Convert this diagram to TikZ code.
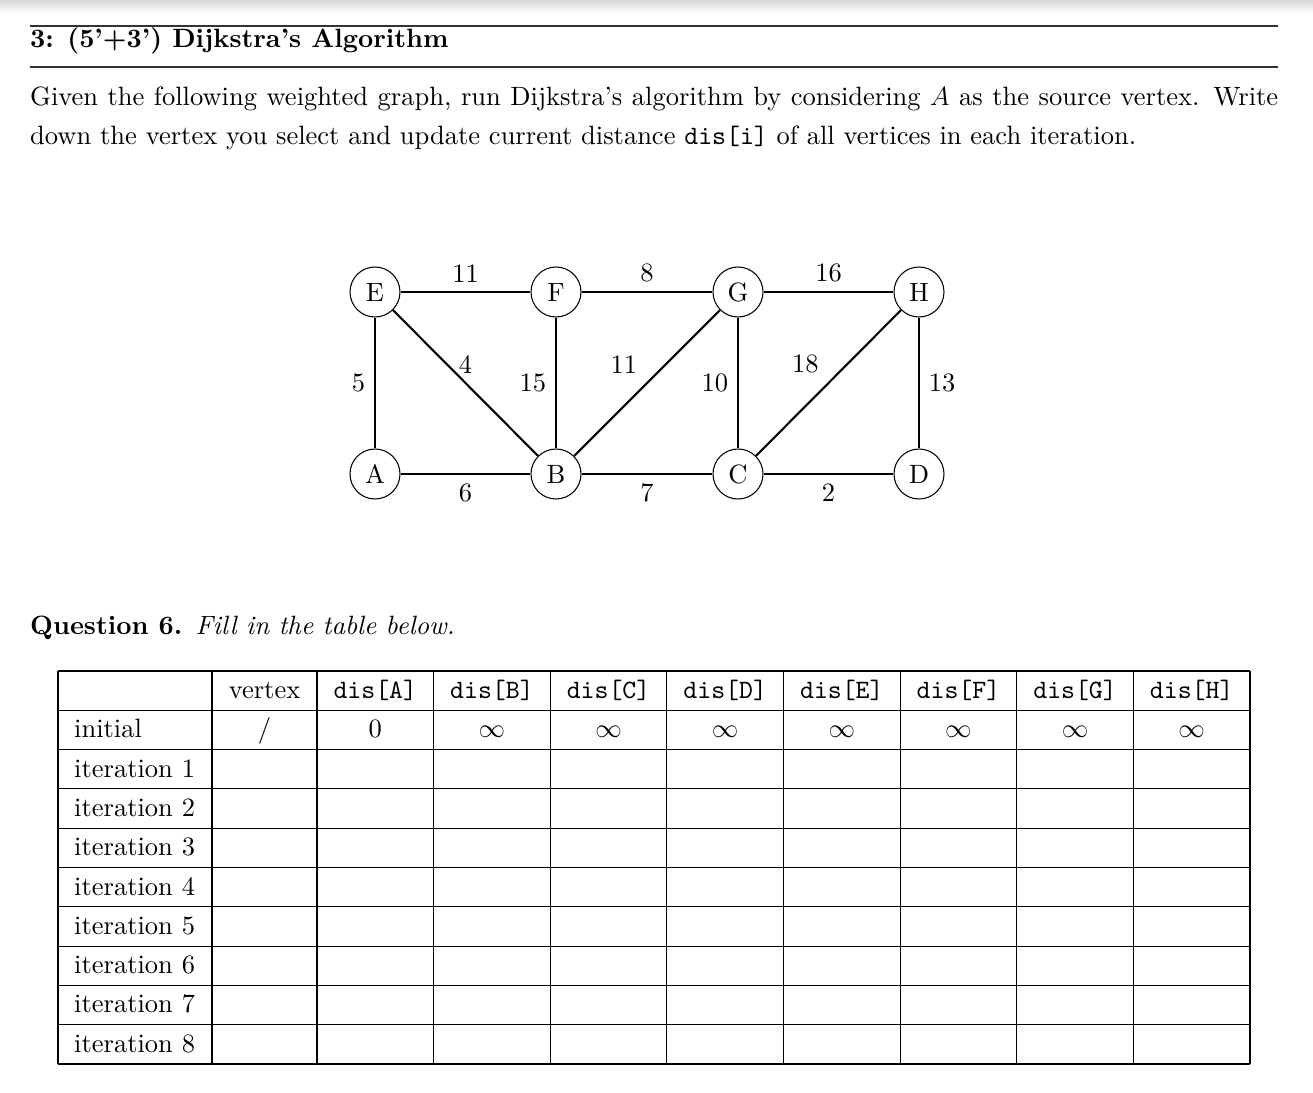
\documentclass[tikz,border=0pt]{standalone}
\usepackage{fix-cm}
\usepackage{fontspec}
\setmainfont{lmroman10-regular.otf}[BoldFont=lmroman10-bold.otf,ItalicFont=lmroman10-italic.otf,BoldItalicFont=lmroman10-bolditalic.otf]
\setmonofont{lmmono10-regular.otf}
\newcommand\mybodyfont{\fontsize{26.5pt}{39.5pt}\selectfont}
\begin{document}
\begin{tikzpicture}[x=1pt,y=-1pt,
  every node/.style={font=\mybodyfont},
  vtx/.style={circle,draw,line width=1.06pt,minimum size=50pt,inner sep=0pt},
  edge/.style={line width=2.1pt},
  wlab/.style={inner sep=8.8pt},
  txt/.style={anchor=base west,inner sep=0pt},
  cell/.style={anchor=base,inner sep=0pt},
  gridline/.style={line width=1.06pt},
  titlerule/.style={line width=1.2pt,black!80}]
\useasboundingbox (0,0) rectangle (1313,1092);
\shade[top color=black!15,bottom color=white,draw=none] (0,0) rectangle (1313,14);

% heading
\draw[titlerule] (30,26) -- (1278,26);
\draw[titlerule] (30,67) -- (1278,67);
\node[txt] (title) at (30,47) {\bfseries 3: (5'+3') Dijkstra's Algorithm};
\node[txt] (p1) at (30,105) {\makebox[1248pt][s]{Given the following weighted graph, run Dijkstra's algorithm by considering $A$ as the source vertex. Write}};
\node[txt] (p2) at (30,144.5) {down the vertex you select and update current distance \texttt{dis[i]} of all vertices in each iteration.};

% graph
\node[vtx] (E) at (375,292) {E};
\node[vtx] (F) at (556,292) {F};
\node[vtx] (G) at (738,292) {G};
\node[vtx] (H) at (919,292) {H};
\node[vtx] (A) at (375,474) {A};
\node[vtx] (B) at (556,474) {B};
\node[vtx] (C) at (738,474) {C};
\node[vtx] (D) at (919,474) {D};

\draw[edge] (E) -- node[wlab,above] (wEF) {11} (F);
\draw[edge] (F) -- node[wlab,above] (wFG) {8} (G);
\draw[edge] (G) -- node[wlab,above] (wGH) {16} (H);
\draw[edge] (E) -- node[wlab,left] (wEA) {5} (A);
\draw[edge] (E) -- node[wlab,above] (wEB) {4} (B);
\draw[edge] (F) -- node[wlab,left] (wFB) {15} (B);
\draw[edge] (B) -- node[wlab,above left] (wBG) {11} (G);
\draw[edge] (G) -- node[wlab,left] (wGC) {10} (C);
\draw[edge] (C) -- node[wlab,above left] (wCH) {18} (H);
\draw[edge] (H) -- node[wlab,right] (wHD) {13} (D);
\draw[edge] (A) -- node[wlab,below] (wAB) {6} (B);
\draw[edge] (B) -- node[wlab,below] (wBC) {7} (C);
\draw[edge] (C) -- node[wlab,below] (wCD) {2} (D);

% question
\node[txt] (q6) at (30,634) {\textbf{Question 6.}\hspace{13.3pt}\textit{Fill in the table below.}};

% table grid
\foreach \xx in {58,212,317,433.625,550.25,666.875,783.5,900.125,1016.75,1133.375,1250}
  \draw[gridline] (\xx,671) -- (\xx,1064);
\foreach \r in {0,...,10}
  \draw[gridline] (58,{671+39.3*\r}) -- (1250,{671+39.3*\r});

% header
\node[cell] (hv) at (264.5,698.5) {vertex};
\foreach \L [count=\k from 0] in {A,B,C,D,E,F,G,H}
  \node[cell] (h\L) at ({317+116.625*(\k+0.5)},698.5) {\texttt{dis[\L]}};

% initial row
\node[txt] (r0) at (74,737.8) {initial};
\node[cell] (v0) at (264.5,737.8) {/};
\node[cell] (dA0) at ({317+116.625*0.5},737.8) {0};
\foreach \L [count=\k from 1] in {B,C,D,E,F,G,H}
  \node[cell] (d\L0) at ({317+116.625*(\k+0.5)},737.8) {$\infty$};

% iteration rows
\foreach \i in {1,...,8}
  \node[txt] (r\i) at (74,{737.8+39.3*\i}) {iteration \i};
\end{tikzpicture}
\end{document}
